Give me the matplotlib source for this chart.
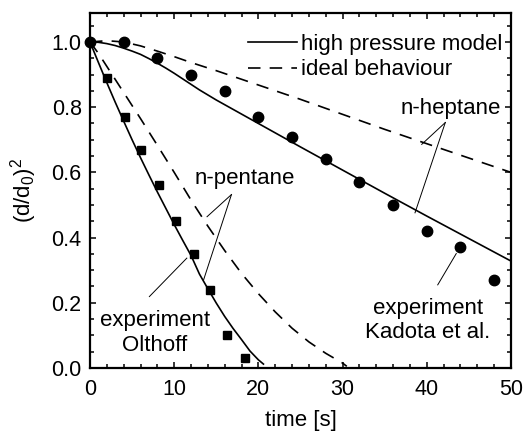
import matplotlib
matplotlib.use("Agg")
import matplotlib.pyplot as plt
from matplotlib.ticker import MultipleLocator

plt.rcParams['font.family'] = ['Liberation Sans', 'DejaVu Sans']
plt.rcParams['mathtext.fontset'] = 'custom'
plt.rcParams['mathtext.rm'] = 'Liberation Sans'
plt.rcParams['mathtext.it'] = 'Liberation Sans'

# experiment Kadota et al. (n-heptane)
hep_t = [0, 4, 8, 12, 16, 20, 24, 28, 32, 36, 40, 44, 48]
hep_exp = [1.0, 1.0, 0.95, 0.90, 0.85, 0.77, 0.71, 0.64, 0.57, 0.50, 0.42, 0.37, 0.27]

# experiment Olthoff (n-pentane)
pen_t = [2.05, 4.1, 6.1, 8.2, 10.2, 12.3, 14.3, 16.3, 18.4]
pen_exp = [0.89, 0.77, 0.67, 0.56, 0.45, 0.35, 0.24, 0.10, 0.03]

# high pressure model, n-heptane
hep_hp_t = [0, 1, 2, 3, 4, 5, 6, 7, 8, 9, 10, 11, 12, 13, 15, 20, 25, 30, 35, 40, 45, 50]
hep_hp = [1.0, 0.999, 0.995, 0.989, 0.981, 0.972, 0.962, 0.949, 0.935, 0.920, 0.904, 0.887,
          0.870, 0.853, 0.822, 0.750, 0.678, 0.607, 0.536, 0.466, 0.397, 0.328]

# ideal behaviour, n-heptane
hep_id_t = [0, 2, 4, 6, 8, 10, 12, 15, 20, 25, 30, 35, 40, 45, 50]
hep_id = [1.0, 1.004, 1.0, 0.988, 0.972, 0.955, 0.937, 0.912, 0.868, 0.824, 0.778, 0.732, 0.688, 0.644, 0.60]

# high pressure model, n-pentane
pen_hp_t = [0, 1, 2, 3, 4, 5, 6, 7, 8, 9, 10, 11, 12, 13, 14, 15, 16, 17, 18, 19, 20, 20.6]
pen_hp = [1.0, 0.937, 0.875, 0.815, 0.757, 0.70, 0.645, 0.592, 0.54, 0.49, 0.44, 0.392, 0.345,
          0.288, 0.243, 0.199, 0.158, 0.121, 0.087, 0.052, 0.025, 0.012]

# ideal behaviour, n-pentane
pen_id_t = [0, 1, 2, 3, 4, 5, 6, 8, 10, 12, 14, 16, 18, 20, 22, 24, 26, 28, 30, 30.5]
pen_id = [1.0, 0.965, 0.925, 0.885, 0.845, 0.805, 0.765, 0.683, 0.60, 0.515, 0.435, 0.36, 0.29,
          0.228, 0.172, 0.122, 0.08, 0.045, 0.015, 0.005]

fig = plt.figure(figsize=(5.31, 4.36), dpi=100)
ax = fig.add_axes([0.1695, 0.156, 0.7928, 0.815])

lw = 1.2
dash = (7.5, 5.5)
ax.plot(hep_hp_t, hep_hp, color='black', lw=lw, label='high pressure model')
ax.plot(hep_id_t, hep_id, color='black', lw=lw, ls=(0, dash), label='ideal behaviour')
ax.plot(pen_hp_t, pen_hp, color='black', lw=lw)
ax.plot(pen_id_t, pen_id, color='black', lw=lw, ls=(0, dash))

ax.plot(hep_t, hep_exp, 'o', color='black', ms=7.5, clip_on=False, zorder=5)
ax.plot(pen_t, pen_exp, 's', color='black', ms=6.2, clip_on=False, zorder=5)

ax.set_xlim(0, 50)
ax.set_ylim(0, 1.09)
ax.xaxis.set_major_locator(MultipleLocator(10))
ax.xaxis.set_minor_locator(MultipleLocator(2))
ax.yaxis.set_major_locator(MultipleLocator(0.2))
ax.yaxis.set_minor_locator(MultipleLocator(0.05))
ax.yaxis.set_major_formatter(matplotlib.ticker.FormatStrFormatter('%.1f'))
ax.tick_params(which='both', direction='in', top=True, right=True, width=1.1)
ax.tick_params(which='major', length=4.5, labelsize=15.5)
ax.tick_params(axis='x', which='major', pad=8)
ax.tick_params(axis='y', which='major', pad=6)
ax.tick_params(which='minor', length=2.6)
for s in ax.spines.values():
    s.set_linewidth(1.6)

ax.set_xlabel('time [s]', fontsize=16, labelpad=7)
ax.set_ylabel('(d/d$_0$)$^2$', fontsize=16, labelpad=9)

leg = ax.legend(loc='upper right', fontsize=16, frameon=False, handlelength=2.2,
                handletextpad=0.15, borderaxespad=0.0, labelspacing=0.2,
                bbox_to_anchor=(1.0, 0.965))

fs = 16
ann = dict(color='black', lw=0.7)
# n-pentane
ax.text(18.4, 0.58, 'n-pentane', fontsize=fs, ha='center', va='center')
ax.plot([16.8, 13.9], [0.532, 0.464], **ann)
ax.plot([16.8, 13.5], [0.532, 0.271], **ann)
# n-heptane
ax.text(48.8, 0.797, 'n-heptane', fontsize=fs, ha='right', va='center')
ax.plot([42.2, 39.4], [0.753, 0.686], **ann)
ax.plot([42.2, 38.6], [0.753, 0.476], **ann)
# Kadota
ax.text(40.1, 0.146, 'experiment\nKadota et al.', fontsize=fs, ha='center', va='center',
        linespacing=1.15)
ax.plot([41.3, 43.5], [0.255, 0.351], **ann)
# Olthoff
ax.text(7.7, 0.108, 'experiment\nOlthoff', fontsize=fs, ha='center', va='center',
        linespacing=1.25)
ax.plot([7.05, 11.5], [0.219, 0.337], **ann)

fig.savefig('out.png', dpi=100)
